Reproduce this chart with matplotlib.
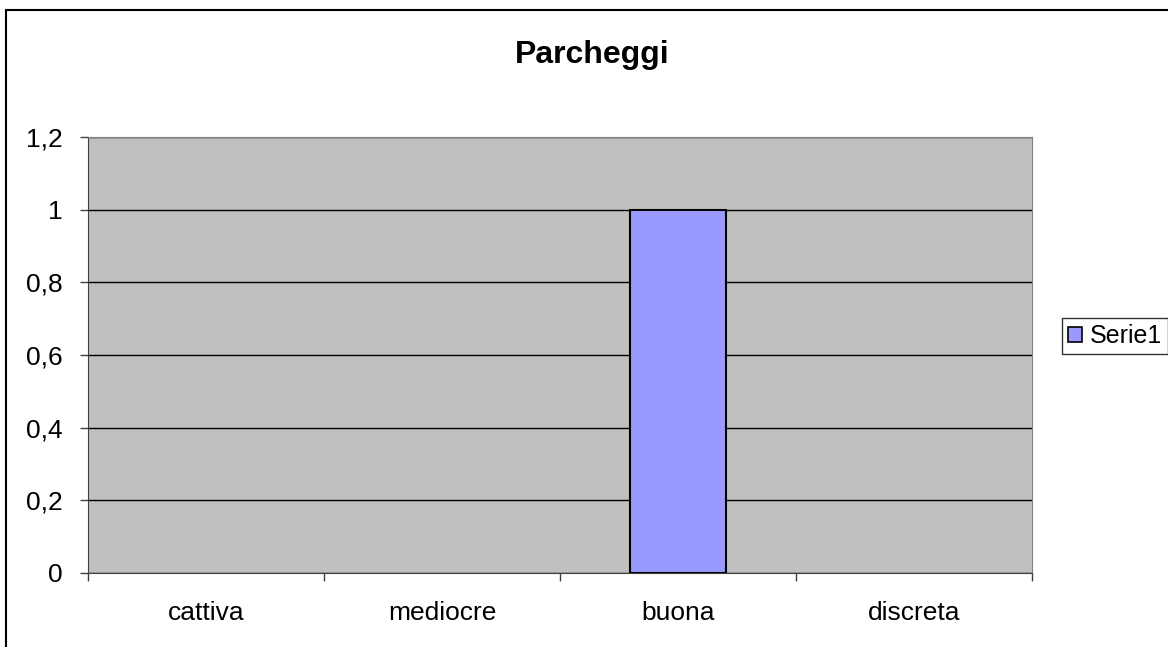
import numpy as np
import matplotlib.pyplot as plt
from matplotlib.patches import Rectangle, Patch
from matplotlib.ticker import FixedLocator, FuncFormatter

plt.rcParams['font.family'] = ['Liberation Sans', 'DejaVu Sans']

# -----------------------------
# Data
# -----------------------------
categories = ['cattiva', 'mediocre', 'buona', 'discreta']
values = [0, 0, 1, 0]
series_name = 'Serie1'
y_ticks = [0, 0.2, 0.4, 0.6, 0.8, 1, 1.2]

bar_color = '#9999FF'

# -----------------------------
# Figure
# -----------------------------
fig = plt.figure(figsize=(11.68, 6.47), dpi=100)
W, H = 1168, 647

# outer chart border (cut off at right/bottom like the original)
fig.patches.append(Rectangle((6 / W, -0.1), 1.2, 1 - 10 / H + 0.1,
                             transform=fig.transFigure, fill=False,
                             edgecolor='black', linewidth=1.5))

ax = fig.add_axes([88 / W, 1 - 573 / H, (1032 - 88) / W, (573 - 137) / H])
ax.set_facecolor('#C0C0C0')

x = np.arange(len(categories))
bars = ax.bar(x, values, width=0.41, color=bar_color, edgecolor='black',
              linewidth=1.5, zorder=3)
# zero-height bars show nothing in the original
for b, v in zip(bars, values):
    if v == 0:
        b.set_visible(False)

ax.set_xlim(-0.5, len(categories) - 0.5)
ax.set_ylim(0, 1.2)
ax.set_yticks(y_ticks)
ax.yaxis.set_major_formatter(FuncFormatter(lambda v, p: ('%g' % v).replace('.', ',')))
ax.grid(axis='y', color='black', linewidth=1, zorder=1)
ax.set_axisbelow(True)

# category ticks between groups, labels in the middle
ax.xaxis.set_major_locator(FixedLocator(np.arange(-0.5, len(categories), 1)))
ax.xaxis.set_major_formatter(FuncFormatter(lambda v, p: ''))
ax.xaxis.set_minor_locator(FixedLocator(x))
ax.set_xticklabels(categories, minor=True)
ax.tick_params(axis='x', which='major', direction='out', length=6, width=1, color='#404040')
ax.tick_params(axis='x', which='minor', length=0, pad=20, labelsize=19)
ax.tick_params(axis='y', direction='out', length=6, width=1, pad=12, labelsize=19, color='#404040')

for side in ['top', 'right']:
    ax.spines[side].set_edgecolor('#808080')
for side in ['left', 'bottom']:
    ax.spines[side].set_edgecolor('#404040')

fig.text(592 / W, 1 - 55 / H, 'Parcheggi', ha='center', va='center',
         fontsize=23, fontweight='bold')

handle = Patch(facecolor=bar_color, edgecolor='black', linewidth=1.2)
leg = fig.legend([handle], [series_name], loc='center left',
                 bbox_to_anchor=(1062 / W, 1 - 336 / H),
                 fontsize=18, frameon=True, fancybox=False, handlelength=0.55,
                 handleheight=0.55, handletextpad=0.3, borderpad=0.25,
                 borderaxespad=0)
leg.get_frame().set_edgecolor('black')
leg.get_frame().set_linewidth(1)

plt.savefig('out.png', dpi=100)
